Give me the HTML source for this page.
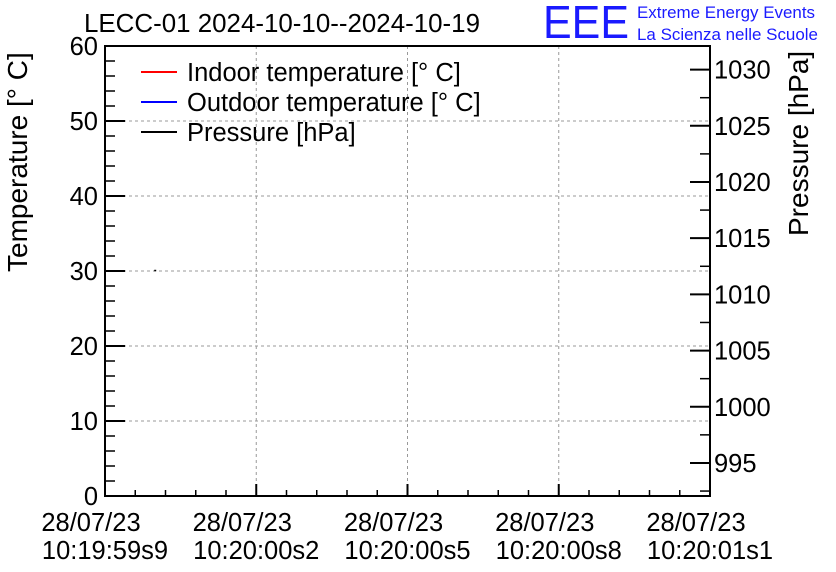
<!DOCTYPE html>
<html><head><meta charset="utf-8"><style>
body{margin:0;background:#fff;}
svg{display:block;font-family:"Liberation Sans",sans-serif;}
</style></head><body>
<svg id="chart" width="836" height="572" viewBox="0 0 836 572">
<rect x="0" y="0" width="836" height="572" fill="#fff"/>
<text x="84" y="32" font-size="25.5" textLength="396" lengthAdjust="spacingAndGlyphs">LECC-01 2024-10-10--2024-10-19</text>
<text x="543" y="38" font-size="46" fill="#1a1aff" textLength="86" lengthAdjust="spacingAndGlyphs">EEE</text>
<text x="637" y="18" font-size="17" fill="#1a1aff" textLength="178" lengthAdjust="spacingAndGlyphs">Extreme Energy Events</text>
<text x="637" y="40" font-size="17" fill="#1a1aff" textLength="181" lengthAdjust="spacingAndGlyphs">La Scienza nelle Scuole</text>
<g id="grid"></g>
<g id="axes"></g>
<g id="series"></g>
<rect x="105" y="46" width="605" height="450" fill="none" stroke="#000" stroke-width="2"/>
<text transform="translate(27,272) rotate(-90)" font-size="28">Temperature [° C]</text>
<text transform="translate(808,236) rotate(-90)" font-size="28">Pressure [hPa]</text>
<g>
<line x1="141" y1="72" x2="177" y2="72" stroke="#f00" stroke-width="2"/>
<text x="187" y="81" font-size="25.5">Indoor temperature [° C]</text>
<line x1="141" y1="102" x2="177" y2="102" stroke="#00f" stroke-width="2"/>
<text x="187" y="111" font-size="25.5">Outdoor temperature [° C]</text>
<line x1="141" y1="132" x2="177" y2="132" stroke="#000" stroke-width="2"/>
<text x="187" y="141" font-size="25.5">Pressure [hPa]</text>
</g>
</svg>
<script>
const tempTicks=[0,10,20,30,40,50,60];
const pressTicks=[995,1000,1005,1010,1015,1020,1025,1030];
const xDates=["28/07/23","28/07/23","28/07/23","28/07/23","28/07/23"];
const xTimes=["10:19:59s9","10:20:00s2","10:20:00s5","10:20:00s8","10:20:01s1"];
const indoorTemp=[];
const outdoorTemp=[];
const pressure=[1012.1];
const pressureIdx=[0.083];

const L=105,R=710,T=46,B=496;
const yT=v=>B-(v-0)/(60-0)*(B-T);
const pMin=992.06,pMax=1032.1;
const yP=v=>B-(v-pMin)/(pMax-pMin)*(B-T);
const xS=i=>L+i*(R-L)/(xTimes.length-1);
const NS="http://www.w3.org/2000/svg";
const grid=document.getElementById('grid'),axes=document.getElementById('axes'),ser=document.getElementById('series');
function mk(tag,attrs,parent){const e=document.createElementNS(NS,tag);for(const k in attrs)e.setAttribute(k,attrs[k]);parent.appendChild(e);return e;}
tempTicks.forEach((v,i)=>{
  const y=yT(v);
  if(i>0&&i<tempTicks.length-1){const g=mk('line',{x1:L,x2:R,y1:y,y2:y,stroke:'#999','stroke-dasharray':'3,3','stroke-width':1},grid);
  
  }
  const t=mk('line',{x1:L,x2:L+20,y1:y,y2:y,stroke:'#000','stroke-width':2},axes);
  
  
  const tx=mk('text',{x:98,y:y+9,'font-size':25.5,'text-anchor':'end'},axes);tx.textContent=v;
  
  
});
for(let v=2;v<60;v+=2){if(v%10===0)continue;const y=yT(v);const m=mk('line',{x1:L,x2:L+10,y1:y,y2:y,stroke:'#000','stroke-width':1.5},axes);
  
  }
pressTicks.forEach(v=>{
  const y=yP(v);
  const t=mk('line',{x1:R-20,x2:R,y1:y,y2:y,stroke:'#000','stroke-width':2},axes);
  
  
  const tx=mk('text',{x:714,y:y+9,'font-size':25.5},axes);tx.textContent=v;
  
  
});
for(let v=992.5;v<pMax;v+=5){const y=yP(v);const m=mk('line',{x1:R-10,x2:R,y1:y,y2:y,stroke:'#000','stroke-width':1.5},axes);
  
  }
xTimes.forEach((s,i)=>{
  const x=xS(i);
  if(i>0&&i<xTimes.length-1){const g=mk('line',{x1:x,x2:x,y1:T,y2:B,stroke:'#999','stroke-dasharray':'3,3','stroke-width':1},grid);
  
  }
  const t=mk('line',{x1:x,x2:x,y1:B-12,y2:B,stroke:'#000','stroke-width':2},axes);
  
  
  const d=mk('text',{x:x-14,y:531,'font-size':25.5,'text-anchor':'middle'},axes);d.textContent=xDates[i];
  
  
  const tm=mk('text',{x:x,y:559,'font-size':25.5,'text-anchor':'middle'},axes);tm.textContent=s;
  
  
  if(i<xTimes.length-1){for(let k=1;k<5;k++){const mx=x+k*(xS(1)-xS(0))/5;const m=mk('line',{x1:mx,x2:mx,y1:B-6,y2:B,stroke:'#000','stroke-width':1.5},axes);
    
    }}
});
pressure.forEach((v,i)=>{const x=L+pressureIdx[i]*(R-L);const p=mk('rect',{x:x-1,y:yP(v)-1,width:2,height:1.5,fill:'#000'},ser);
  
  });
</script>
</body></html>
